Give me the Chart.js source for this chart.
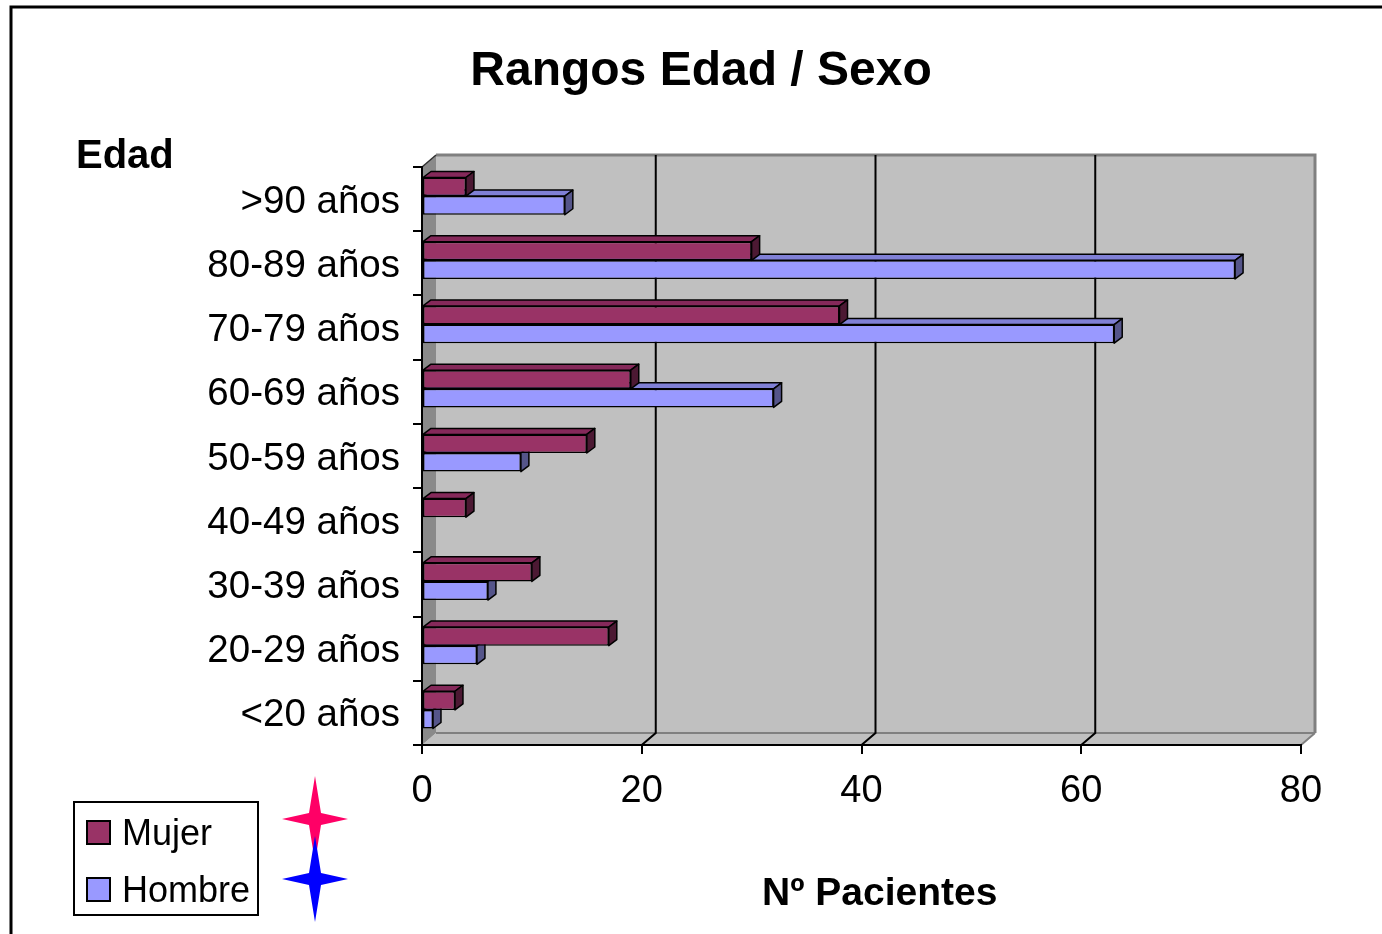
<!DOCTYPE html>
<html>
<head>
<meta charset="utf-8">
<title>Rangos Edad / Sexo</title>
<script src="https://cdn.jsdelivr.net/npm/chart.js"></script>
<style>
    body { margin: 0; background: #fff; }
    canvas { display: block; }
</style>
</head>
<body>
<canvas id="myChart_edadsexo" width="1382" height="934"></canvas>
<script>
// datos (de arriba hacia abajo)
const categorias = ['>90 años', '80-89 años', '70-79 años', '60-69 años', '50-59 años', '40-49 años', '30-39 años', '20-29 años', '<20 años'];
const mujer = [4, 30, 38, 19, 15, 4, 10, 17, 3];
const hombre = [13, 74, 63, 32, 9, 0, 6, 5, 1];
const ticksX = [0, 20, 40, 60, 80];

const FUENTE = "'Liberation Sans', Arial, sans-serif";
const DX = 14, DY = 12;   // fondo 3d
const BX = 8, BY = 6;     // profundidad barras

function poligono(ctx, pts, relleno, borde, ancho) {
    ctx.beginPath();
    ctx.moveTo(pts[0][0], pts[0][1]);
    for (let i = 1; i < pts.length; i++) ctx.lineTo(pts[i][0], pts[i][1]);
    ctx.closePath();
    if (relleno) { ctx.fillStyle = relleno; ctx.fill(); }
    if (borde) { ctx.strokeStyle = borde; ctx.lineWidth = ancho || 1; ctx.stroke(); }
}

function estrella(ctx, cx, cy, color) {
    const w = 33, h = 43, r = 6;
    poligono(ctx, [
        [cx, cy - h], [cx + r, cy - r], [cx + w, cy], [cx + r, cy + r],
        [cx, cy + h], [cx - r, cy + r], [cx - w, cy], [cx - r, cy - r]
    ], color);
}

// paredes, suelo y lineas de division
const fondo3d = {
    id: 'fondo3d',
    afterDatasetsUpdate(chart) {
        // las barras quedan un poco hacia atras (perspectiva)
        chart.data.datasets.forEach(function(ds, d) {
            chart.getDatasetMeta(d).data.forEach(function(bar) { bar.y -= 3; });
        });
    },
    beforeDraw(chart) {
        const ctx = chart.ctx, a = chart.chartArea, sx = chart.scales.x;
        ctx.save();
        // pared del fondo
        ctx.fillStyle = '#c0c0c0';
        ctx.fillRect(a.left + DX, a.top - DY, a.right - a.left, a.bottom - a.top);
        ctx.strokeStyle = '#808080';
        ctx.lineWidth = 3;
        ctx.beginPath();
        ctx.moveTo(a.left + DX, a.top - DY);
        ctx.lineTo(a.right + DX, a.top - DY);
        ctx.lineTo(a.right + DX, a.bottom - DY);
        ctx.stroke();
        // suelo
        poligono(ctx, [[a.left, a.bottom], [a.right, a.bottom], [a.right + DX, a.bottom - DY], [a.left + DX, a.bottom - DY]], '#c0c0c0');
        ctx.strokeStyle = '#808080';
        ctx.lineWidth = 2;
        ctx.beginPath();
        ctx.moveTo(a.left + DX, a.bottom - DY);
        ctx.lineTo(a.right + DX, a.bottom - DY);
        ctx.moveTo(a.right, a.bottom);
        ctx.lineTo(a.right + DX, a.bottom - DY);
        ctx.stroke();
        // pared izquierda
        poligono(ctx, [[a.left, a.top], [a.left + DX, a.top - DY], [a.left + DX, a.bottom - DY], [a.left, a.bottom]], '#8a8a8a');
        ctx.strokeStyle = '#303030';
        ctx.lineWidth = 1.5;
        ctx.beginPath();
        ctx.moveTo(a.left, a.top);
        ctx.lineTo(a.left + DX, a.top - DY);
        ctx.stroke();
        // divisiones
        ctx.strokeStyle = '#000';
        ctx.lineWidth = 2;
        ticksX.forEach(function(v) {
            if (v === ticksX[0] || v === ticksX[ticksX.length - 1]) return;
            const px = sx.getPixelForValue(v);
            ctx.beginPath();
            ctx.moveTo(px, a.bottom);
            ctx.lineTo(px + DX, a.bottom - DY);
            ctx.lineTo(px + DX, a.top - DY);
            ctx.stroke();
        });
        ctx.restore();
    },
    beforeDatasetsDraw(chart) {
        const ctx = chart.ctx;
        const caras = [
            { arriba: '#85295a', lado: '#4c1933' },
            { arriba: '#8080d6', lado: '#55558a' }
        ];
        ctx.save();
        ctx.lineJoin = 'round';
        // primero hombre, despues mujer
        for (let d = chart.data.datasets.length - 1; d >= 0; d--) {
            const meta = chart.getDatasetMeta(d);
            meta.data.forEach(function(bar, i) {
                if (!chart.data.datasets[d].data[i]) return;
                const top = bar.y - bar.height / 2, bottom = bar.y + bar.height / 2;
                poligono(ctx, [[bar.base, top], [bar.base + BX, top - BY], [bar.x + BX, top - BY], [bar.x, top]], caras[d].arriba, '#000', 1.5);
                poligono(ctx, [[bar.x, top], [bar.x + BX, top - BY], [bar.x + BX, bottom - BY], [bar.x, bottom]], caras[d].lado, '#000', 1.5);
            });
        }
        ctx.restore();
    },
    afterDraw(chart) {
        const ctx = chart.ctx;
        ctx.save();
        // marco exterior
        ctx.strokeStyle = '#000';
        ctx.lineWidth = 3;
        ctx.strokeRect(11, 7, 1420, 1000);
        // titulos
        ctx.fillStyle = '#000';
        ctx.textBaseline = 'alphabetic';
        ctx.textAlign = 'center';
        ctx.font = 'bold 48px ' + FUENTE;
        ctx.fillText('Rangos Edad / Sexo', 701, 85);
        ctx.textAlign = 'left';
        ctx.font = 'bold 40px ' + FUENTE;
        ctx.fillText('Edad', 76, 168);
        ctx.font = 'bold 39px ' + FUENTE;
        ctx.fillText('Nº Pacientes', 762, 905);
        // leyenda
        ctx.lineWidth = 2;
        ctx.strokeRect(74, 802, 184, 113);
        ctx.font = '36px ' + FUENTE;
        chart.data.datasets.forEach(function(ds, i) {
            const y = 821 + i * 57;
            ctx.fillStyle = ds.backgroundColor;
            ctx.fillRect(87, y, 23, 23);
            ctx.strokeStyle = '#000';
            ctx.strokeRect(87, y, 23, 23);
            ctx.fillStyle = '#000';
            ctx.fillText(ds.label, 122, y + 24);
        });
        // estrellas
        estrella(ctx, 315, 819, '#ff0066');
        estrella(ctx, 315, 879, '#0000ff');
        ctx.restore();
    }
};

const data = {
    labels: categorias,
    datasets: [{
        label: 'Mujer',
        backgroundColor: '#993366',
        borderColor: '#000',
        borderWidth: 1.5,
        borderSkipped: false,
        data: mujer,
    }, {
        label: 'Hombre',
        backgroundColor: '#9999ff',
        borderColor: '#000',
        borderWidth: 1.5,
        borderSkipped: false,
        data: hombre,
    }]
};

const config = {
    type: 'bar',
    data: data,
    plugins: [fondo3d],
    options: {
        indexAxis: 'y',
        responsive: false,
        animation: false,
        categoryPercentage: 0.58,
        barPercentage: 1.0,
        layout: {
            padding: { top: 167, right: 81, left: 0, bottom: 0 }
        },
        plugins: {
            legend: { display: false },
            title: { display: false },
            tooltip: { enabled: false }
        },
        scales: {
            x: {
                min: 0,
                max: 80,
                afterFit: function(scale) { scale.height = 189; },
                afterBuildTicks: function(scale) {
                    scale.ticks = ticksX.map(function(v) { return { value: v }; });
                },
                ticks: {
                    color: '#000',
                    padding: 15,
                    maxRotation: 0,
                    font: { family: FUENTE, size: 38 }
                },
                grid: {
                    drawOnChartArea: false,
                    drawTicks: true,
                    tickLength: 9,
                    color: '#000',
                    lineWidth: 2
                },
                border: { color: '#000', width: 2 }
            },
            y: {
                afterFit: function(scale) { scale.width = 422; },
                ticks: {
                    color: '#000',
                    padding: 13,
                    labelOffset: 3,
                    font: { family: FUENTE, size: 38.5 }
                },
                grid: {
                    drawOnChartArea: false,
                    drawTicks: true,
                    tickLength: 9,
                    color: '#000',
                    lineWidth: 2
                },
                border: { color: '#000', width: 2 }
            }
        }
    }
};

const myChart = new Chart(
    document.getElementById('myChart_edadsexo'),
    config
);
</script>
</body>
</html>
